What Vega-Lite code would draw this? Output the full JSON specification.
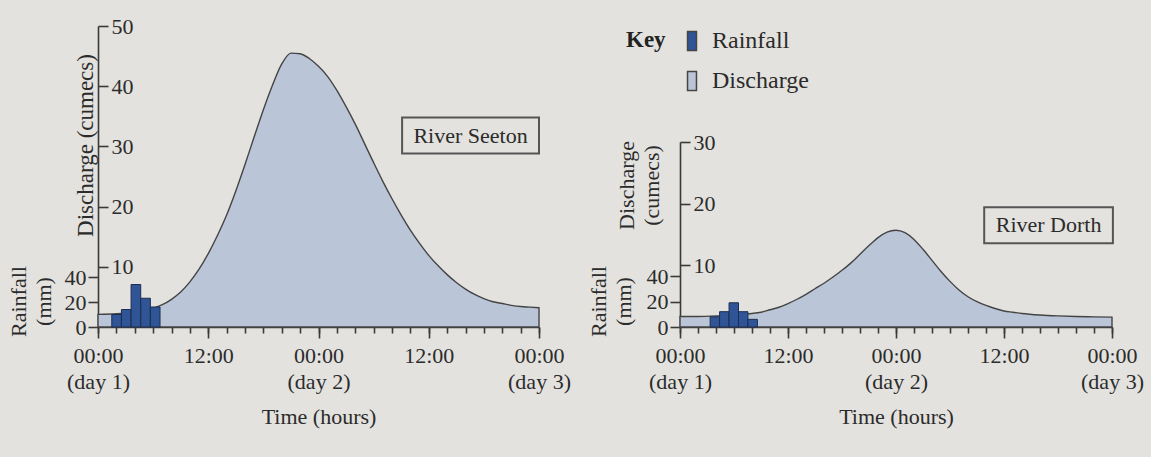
{
  "$schema": "https://vega.github.io/schema/vega-lite/v6.json",
  "width": 1151,
  "height": 457,
  "autosize": {"type": "none"},
  "padding": 0,
  "background": "#e3e2de",
  "datasets": {
    "seetonQ": [
      {"h": 0, "q": 2.1}, {"h": 2, "q": 2.2}, {"h": 4, "q": 2.5}, {"h": 6, "q": 3.1}, {"h": 7, "q": 3.7},
      {"h": 8, "q": 4.6}, {"h": 9, "q": 5.8}, {"h": 10, "q": 7.5}, {"h": 11, "q": 9.6}, {"h": 12, "q": 12.2},
      {"h": 13, "q": 15.2}, {"h": 14, "q": 18.6}, {"h": 15, "q": 22.6}, {"h": 16, "q": 27.0}, {"h": 17, "q": 31.6},
      {"h": 18, "q": 36.1}, {"h": 19, "q": 40.2}, {"h": 20, "q": 43.7}, {"h": 21, "q": 45.5}, {"h": 22, "q": 45.4},
      {"h": 23, "q": 44.6}, {"h": 24, "q": 43.3}, {"h": 25, "q": 41.6}, {"h": 26, "q": 39.3}, {"h": 27, "q": 36.6},
      {"h": 28, "q": 33.7}, {"h": 29, "q": 30.5}, {"h": 30, "q": 27.3}, {"h": 31, "q": 24.2}, {"h": 32, "q": 21.3},
      {"h": 33, "q": 18.6}, {"h": 34, "q": 16.1}, {"h": 35, "q": 13.9}, {"h": 36, "q": 11.9}, {"h": 37, "q": 10.2},
      {"h": 38, "q": 8.7}, {"h": 39, "q": 7.4}, {"h": 40, "q": 6.3}, {"h": 41, "q": 5.4}, {"h": 42, "q": 4.7},
      {"h": 43, "q": 4.2}, {"h": 44, "q": 3.9}, {"h": 45, "q": 3.6}, {"h": 46, "q": 3.4}, {"h": 47, "q": 3.3},
      {"h": 48, "q": 3.2}
    ],
    "seetonRain": [
      {"s": 1.5, "e": 2.55, "r": 10}, {"s": 2.55, "e": 3.6, "r": 14}, {"s": 3.6, "e": 4.65, "r": 34},
      {"s": 4.65, "e": 5.7, "r": 23}, {"s": 5.7, "e": 6.75, "r": 16}
    ],
    "dorthQ": [
      {"h": 0, "q": 1.7}, {"h": 2, "q": 1.7}, {"h": 4, "q": 1.8}, {"h": 6, "q": 2.0}, {"h": 8, "q": 2.2},
      {"h": 9, "q": 2.4}, {"h": 10, "q": 2.8}, {"h": 11, "q": 3.2}, {"h": 12, "q": 3.8}, {"h": 13, "q": 4.5},
      {"h": 14, "q": 5.3}, {"h": 15, "q": 6.2}, {"h": 16, "q": 7.1}, {"h": 17, "q": 8.1}, {"h": 18, "q": 9.2},
      {"h": 19, "q": 10.4}, {"h": 20, "q": 11.8}, {"h": 21, "q": 13.2}, {"h": 22, "q": 14.5}, {"h": 23, "q": 15.4},
      {"h": 24, "q": 15.7}, {"h": 25, "q": 15.3}, {"h": 26, "q": 14.2}, {"h": 27, "q": 12.6}, {"h": 28, "q": 10.8},
      {"h": 29, "q": 9.0}, {"h": 30, "q": 7.4}, {"h": 31, "q": 6.0}, {"h": 32, "q": 4.9}, {"h": 33, "q": 4.1},
      {"h": 34, "q": 3.5}, {"h": 35, "q": 3.0}, {"h": 36, "q": 2.6}, {"h": 37, "q": 2.4}, {"h": 38, "q": 2.2},
      {"h": 40, "q": 1.95}, {"h": 42, "q": 1.8}, {"h": 44, "q": 1.7}, {"h": 46, "q": 1.65}, {"h": 48, "q": 1.6}
    ],
    "dorthRain": [
      {"s": 3.35, "e": 4.4, "r": 8}, {"s": 4.4, "e": 5.45, "r": 12}, {"s": 5.45, "e": 6.5, "r": 19},
      {"s": 6.5, "e": 7.55, "r": 12}, {"s": 7.55, "e": 8.6, "r": 6}
    ],
    "seetonLabel": [{"x1": 33.1, "x2": 48.0, "y1": 34.8, "y2": 28.8, "tx": 40.55, "ty": 31.8, "label": "River Seeton"}],
    "dorthLabel": [{"x1": 33.8, "x2": 48.1, "y1": 19.4, "y2": 13.6, "tx": 40.95, "ty": 16.5, "label": "River Dorth"}]
  },
  "layer": [
    {
      "data": {"name": "seetonQ"},
      "mark": {"type": "area", "interpolate": "monotone", "stroke": "#444444", "strokeWidth": 1.4, "opacity": 1},
      "encoding": {
        "x": {"field": "h", "type": "quantitative",
          "scale": {"domain": [0, 48], "range": [98, 539], "nice": false, "zero": false},
          "axis": {"orient": "bottom", "offset": -130, "values": [0, 12, 24, 36, 48], "tickSize": 11, "labelPadding": 7,
            "labelExpr": "datum.value == 0 ? ['00:00', '(day 1)'] : datum.value == 24 ? ['00:00', '(day 2)'] : datum.value == 48 ? ['00:00', '(day 3)'] : '12:00'",
            "labelLineHeight": 26, "labelBaseline": "top", "title": "Time (hours)", "titlePadding": 14}},
        "y": {"field": "q", "type": "quantitative",
          "scale": {"domain": [0, 50], "range": [327, 26], "nice": false},
          "axis": {"orient": "right", "offset": -1053, "values": [10, 20, 30, 40, 50], "tickSize": 10, "labelPadding": 3,
            "title": "Discharge (cumecs)", "titleFontSize": 23, "titleAngle": 270, "titleX": -13, "titleY": 145, "titleAlign": "center", "titleBaseline": "middle"}},
        "color": {"datum": "Discharge",
          "scale": {"domain": ["Rainfall", "Discharge"], "range": ["#2f5596", "#bac6d7"]},
          "legend": {"orient": "none", "legendX": 626, "legendY": 29, "title": "Key", "titleOrient": "left", "titleAnchor": "start", "titleBaseline": "top", "titlePadding": 14}}
      }
    },
    {
      "data": {"name": "seetonRain"},
      "mark": {"type": "bar", "stroke": "#1d2d4f", "strokeWidth": 1},
      "encoding": {
        "x": {"field": "s", "type": "quantitative",
          "scale": {"domain": [0, 48], "range": [98, 539], "nice": false, "zero": false},
          "axis": {"orient": "bottom", "offset": -130, "values": [0, 2, 4, 6, 8, 10, 12, 14, 16, 18, 20, 22, 24, 26, 28, 30, 32, 34, 36, 38, 40, 42, 44, 46, 48],
            "tickSize": 6, "labels": false, "domain": false, "title": null}},
        "x2": {"field": "e"},
        "y": {"field": "r", "type": "quantitative",
          "scale": {"domain": [0, 40], "range": [327, 277], "nice": false},
          "axis": {"orient": "left", "offset": -98, "values": [0, 20, 40], "tickSize": 10, "labelPadding": 2, "domain": false,
            "title": ["Rainfall", "(mm)"], "titleLineHeight": 25, "titleAngle": 270, "titleX": -80, "titleY": 301, "titleAlign": "center", "titleBaseline": "middle"}},
        "y2": {"datum": 0},
        "color": {"datum": "Rainfall"}
      }
    },
    {
      "data": {"name": "seetonLabel"},
      "mark": {"type": "rect", "fill": null, "fillOpacity": 0, "stroke": "#555555", "strokeWidth": 2},
      "encoding": {
        "x": {"field": "x1", "type": "quantitative", "scale": {"domain": [0, 48], "range": [98, 539], "nice": false, "zero": false}, "axis": null},
        "x2": {"field": "x2"},
        "y": {"field": "y1", "type": "quantitative", "scale": {"domain": [0, 50], "range": [327, 26], "nice": false}, "axis": null},
        "y2": {"field": "y2"}
      }
    },
    {
      "data": {"name": "seetonLabel"},
      "mark": {"type": "text", "font": "Liberation Serif", "fontSize": 22, "color": "#2b2b2b", "align": "center", "baseline": "middle"},
      "encoding": {
        "x": {"field": "tx", "type": "quantitative", "scale": {"domain": [0, 48], "range": [98, 539], "nice": false, "zero": false}, "axis": null},
        "y": {"field": "ty", "type": "quantitative", "scale": {"domain": [0, 50], "range": [327, 26], "nice": false}, "axis": null},
        "text": {"field": "label"}
      }
    },
    {
      "data": {"name": "dorthQ"},
      "mark": {"type": "area", "interpolate": "monotone", "stroke": "#444444", "strokeWidth": 1.4, "opacity": 1},
      "encoding": {
        "x": {"field": "h", "type": "quantitative",
          "scale": {"domain": [0, 48], "range": [680, 1112], "nice": false, "zero": false},
          "axis": {"orient": "bottom", "offset": -130, "values": [0, 12, 24, 36, 48], "tickSize": 11, "labelPadding": 7,
            "labelExpr": "datum.value == 0 ? ['00:00', '(day 1)'] : datum.value == 24 ? ['00:00', '(day 2)'] : datum.value == 48 ? ['00:00', '(day 3)'] : '12:00'",
            "labelLineHeight": 26, "labelBaseline": "top", "title": "Time (hours)", "titlePadding": 14}},
        "y": {"field": "q", "type": "quantitative",
          "scale": {"domain": [0, 30], "range": [327, 142], "nice": false},
          "axis": {"orient": "right", "offset": -471, "values": [10, 20, 30], "tickSize": 10, "labelPadding": 3,
            "title": ["Discharge", "(cumecs)"], "titleLineHeight": 25, "titleAngle": 270, "titleX": -54, "titleY": 185, "titleAlign": "center", "titleBaseline": "middle"}},
        "color": {"datum": "Discharge"}
      }
    },
    {
      "data": {"name": "dorthRain"},
      "mark": {"type": "bar", "stroke": "#1d2d4f", "strokeWidth": 1},
      "encoding": {
        "x": {"field": "s", "type": "quantitative",
          "scale": {"domain": [0, 48], "range": [680, 1112], "nice": false, "zero": false},
          "axis": {"orient": "bottom", "offset": -130, "values": [0, 2, 4, 6, 8, 10, 12, 14, 16, 18, 20, 22, 24, 26, 28, 30, 32, 34, 36, 38, 40, 42, 44, 46, 48],
            "tickSize": 6, "labels": false, "domain": false, "title": null}},
        "x2": {"field": "e"},
        "y": {"field": "r", "type": "quantitative",
          "scale": {"domain": [0, 40], "range": [327, 276], "nice": false},
          "axis": {"orient": "left", "offset": -680, "values": [0, 20, 40], "tickSize": 10, "labelPadding": 2, "domain": false,
            "title": ["Rainfall", "(mm)"], "titleLineHeight": 25, "titleAngle": 270, "titleX": -82, "titleY": 301, "titleAlign": "center", "titleBaseline": "middle"}},
        "y2": {"datum": 0},
        "color": {"datum": "Rainfall"}
      }
    },
    {
      "data": {"name": "dorthLabel"},
      "mark": {"type": "rect", "fill": null, "fillOpacity": 0, "stroke": "#555555", "strokeWidth": 2},
      "encoding": {
        "x": {"field": "x1", "type": "quantitative", "scale": {"domain": [0, 48], "range": [680, 1112], "nice": false, "zero": false}, "axis": null},
        "x2": {"field": "x2"},
        "y": {"field": "y1", "type": "quantitative", "scale": {"domain": [0, 30], "range": [327, 142], "nice": false}, "axis": null},
        "y2": {"field": "y2"}
      }
    },
    {
      "data": {"name": "dorthLabel"},
      "mark": {"type": "text", "font": "Liberation Serif", "fontSize": 22, "color": "#2b2b2b", "align": "center", "baseline": "middle"},
      "encoding": {
        "x": {"field": "tx", "type": "quantitative", "scale": {"domain": [0, 48], "range": [680, 1112], "nice": false, "zero": false}, "axis": null},
        "y": {"field": "ty", "type": "quantitative", "scale": {"domain": [0, 30], "range": [327, 142], "nice": false}, "axis": null},
        "text": {"field": "label"}
      }
    }
  ],
  "resolve": {"scale": {"x": "independent", "y": "independent"}},
  "config": {
    "view": {"stroke": null},
    "font": "Liberation Serif",
    "axis": {
      "grid": false, "zindex": 1,
      "labelFont": "Liberation Serif", "labelFontSize": 22, "labelColor": "#2b2b2b",
      "titleFont": "Liberation Serif", "titleFontSize": 22, "titleFontWeight": "normal", "titleColor": "#2b2b2b",
      "domainColor": "#3a3a3a", "domainWidth": 1.6, "tickColor": "#3a3a3a", "tickWidth": 1.6,
      "labelFlush": false, "labelOverlap": false
    },
    "legend": {
      "titleFont": "Liberation Serif", "titleFontSize": 23, "titleFontWeight": "bold", "titleColor": "#222222",
      "labelFont": "Liberation Serif", "labelFontSize": 24, "labelColor": "#2b2b2b",
      "symbolType": "M-0.47,-1H0.47V1H-0.47Z", "symbolSize": 361, "symbolStrokeColor": "#444444", "symbolStrokeWidth": 1.5,
      "symbolOpacity": 1, "rowPadding": 14, "labelOffset": 8
    }
  }
}
